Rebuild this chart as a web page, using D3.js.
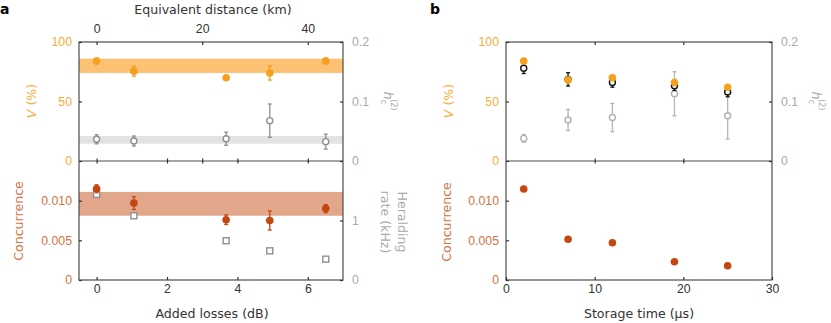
<!DOCTYPE html>
<html>
<head>
<meta charset="utf-8">
<script src="https://cdn.jsdelivr.net/npm/d3@7"></script>
<style>
  body { margin: 0; background: #fff; }
  svg { display: block; font-family: "DejaVu Sans", sans-serif; }
  .frame { fill: none; stroke: #4d4d4d; stroke-width: 1.2; }
  .axis path.domain { display: none; }
  .axis line { stroke: #333; stroke-width: 1.2; }
</style>
</head>
<body>
<svg id="chart" width="831" height="323"></svg>
<script>
"use strict";

// a: added losses
const lossDb = [0, 1.06, 3.68, 4.92, 6.51];
const visLoss = [84, 75.5, 70, 74, 84];
const visLossErr = [2.5, 4.2, 2, 6, 2.5];
const g2Loss = [0.0365, 0.0336, 0.0375, 0.0678, 0.0325];
const g2LossErr = [0.0076, 0.0084, 0.011, 0.028, 0.0126];
const concLoss = [0.0115, 0.0097, 0.0076, 0.0075, 0.0090];
const concLossErr = [0.0005, 0.0008, 0.0006, 0.0012, 0.0005];
const heraldRate = [1.44, 1.08, 0.66, 0.49, 0.35];
const visBand = [74, 86];
const g2Band = [0.029, 0.042];
const concBand = [0.0081, 0.0111];
const dbPerKm = 0.15;

// b: storage time
const storageUs = [2, 7, 12, 19, 25];
const visStore = [84, 68, 70, 66, 62];
const visStoreErr = [1.5, 2.5, 2, 2.5, 2];
const visStoreRef = [78, 68.6, 66, 63.3, 58];
const visStoreRefErr = [4.5, 5.6, 4, 4, 4];
const g2Store = [0.038, 0.069, 0.073, 0.113, 0.076];
const g2StoreErr = [0.0065, 0.0176, 0.0238, 0.037, 0.039];
const concStore = [0.01147, 0.00513, 0.0047, 0.0023, 0.0018];
const concStoreErr = [0.0002, 0.0002, 0.0002, 0.0001, 0.0001];

// tick values
const lossTicks = [0, 2, 4, 6];
const kmTicks = [0, 20, 40];
const storeTicks = [0, 10, 20, 30];
const visTicks = [0, 50, 100];
const g2Ticks = [0, 0.1, 0.2];
const concTicks = [0, 0.005, 0.010];
const heraldTicks = [0, 1];

const ORANGE = "#f7a01e", ORANGE_TXT = "#f8ac3a", ORANGE_BAND = "#fcc173";
const RUST = "#c4470f", RUST_TXT = "#d2743f", RUST_BAND = "#e2a68b";
const GREY = "#8f8f8f", GREY_TXT = "#a9a9a9", GREY_BAND = "#e3e3e3";
const INK = "#333";

const svg = d3.select("#chart");
svg.append("rect").attr("width", 831).attr("height", 323).attr("fill", "#fff");

const yTop = 42, yMid = 161, yBot = 280;
const FS = 12.6, TS = 12.3;

const yVis = d3.scaleLinear().domain([0, 100]).range([yMid, yTop]);
const yG2 = d3.scaleLinear().domain([0, 0.2]).range([yMid, yTop]);
const yConc = d3.scaleLinear().domain([0, 0.015]).range([yBot, yMid]);
const yHerald = d3.scaleLinear().domain([0, 2]).range([yBot, yMid]);

const concFmt = d => d === 0 ? "0" : d3.format(".3f")(d);
const g2Fmt = d => d === 0 ? "0" : d3.format(".1f")(d);

function colorText(color) {
  return a => a.selectAll("text").attr("fill", color).style("font-size", TS + "px");
}

function yAxes(g, left, right) {
  // left: visibility on top, concurrence below; right: h_c^(2) on top
  g.append("g").attr("class", "axis").attr("transform", `translate(${left},0)`)
    .call(d3.axisLeft(yVis).tickValues(visTicks).tickSizeInner(-3).tickSizeOuter(0).tickPadding(7))
    .call(colorText(ORANGE_TXT));
  g.append("g").attr("class", "axis").attr("transform", `translate(${left},0)`)
    .call(d3.axisLeft(yConc).tickValues(concTicks).tickFormat(concFmt).tickSizeInner(-3).tickSizeOuter(0).tickPadding(7))
    .call(colorText(RUST_TXT));
  g.append("g").attr("class", "axis").attr("transform", `translate(${right},0)`)
    .call(d3.axisRight(yG2).tickValues(g2Ticks).tickFormat(g2Fmt).tickSizeInner(-3).tickSizeOuter(0).tickPadding(9))
    .call(colorText(GREY_TXT));
}

function dividerTicks(g, x, ticks) {
  // both-sided ticks on the divider
  g.append("g").attr("class", "axis").attr("transform", `translate(0,${yMid})`)
    .call(d3.axisBottom(x).tickValues(ticks).tickSize(2.5).tickFormat(""));
  g.append("g").attr("class", "axis").attr("transform", `translate(0,${yMid})`)
    .call(d3.axisTop(x).tickValues(ticks).tickSize(2.5).tickFormat(""));
}

function errBars(g, xs, ys, errs, x, y, color) {
  const eb = g.append("g").attr("stroke", color).attr("stroke-width", 1.3);
  xs.forEach((xv, i) => {
    const x0 = x(xv), y1 = y(ys[i] - errs[i]), y2 = y(ys[i] + errs[i]);
    eb.append("line").attr("x1", x0).attr("x2", x0).attr("y1", y1).attr("y2", y2);
    eb.append("line").attr("x1", x0 - 2).attr("x2", x0 + 2).attr("y1", y1).attr("y2", y1);
    eb.append("line").attr("x1", x0 - 2).attr("x2", x0 + 2).attr("y1", y2).attr("y2", y2);
  });
}

function dots(g, xs, ys, x, y, fill, stroke, r) {
  g.append("g").selectAll("circle").data(xs).join("circle")
    .attr("cx", d => x(d)).attr("cy", (d, i) => y(ys[i])).attr("r", r)
    .attr("fill", fill).attr("stroke", stroke).attr("stroke-width", stroke === "none" ? 0 : 1.4);
}

function band(g, x0, x1, y, range, color) {
  g.append("rect").attr("x", x0).attr("width", x1 - x0)
    .attr("y", y(range[1])).attr("height", y(range[0]) - y(range[1])).attr("fill", color);
}

function rotLabel(g, x, y, angle, lines, color, dy) {
  const t = g.append("text").attr("transform", `translate(${x},${y}) rotate(${angle})`)
    .attr("text-anchor", "middle").attr("fill", color).style("font-size", FS + "px");
  lines.forEach((l, i) => t.append("tspan").attr("x", 0).attr("dy", i === 0 ? 0 : dy).text(l));
  return t;
}

function g2Label(g, x, y) {
  const t = g.append("text").attr("transform", `translate(${x},${y}) rotate(90)`)
    .attr("text-anchor", "middle").attr("fill", GREY_TXT).style("font-size", "13px");
  t.append("tspan").attr("font-style", "italic").text("h");
  t.append("tspan").attr("dy", 3).style("font-size", "8px").text("c");
  t.append("tspan").attr("dx", -5).attr("dy", -10).style("font-size", "8px").text("(2)");
}

function visLabel(g, x, y) {
  const t = g.append("text").attr("transform", `translate(${x},${y}) rotate(-90)`)
    .attr("text-anchor", "middle").attr("fill", ORANGE_TXT).style("font-size", FS + "px");
  t.append("tspan").attr("font-style", "italic").text("V");
  t.append("tspan").text(" (%)");
}

// ---- panel a ----
{
  const L = 79, R = 343;
  const g = svg.append("g");
  const x = d3.scaleLinear().domain([-0.5, 7]).range([L, R]);
  const xKm = d3.scaleLinear().domain([-0.5 / dbPerKm, 7 / dbPerKm]).range([L, R]);

  band(g, L, R, yVis, visBand, ORANGE_BAND);
  band(g, L, R, yG2, g2Band, GREY_BAND);
  band(g, L, R, yConc, concBand, RUST_BAND);

  errBars(g, lossDb, g2Loss, g2LossErr, x, yG2, GREY);
  dots(g, lossDb, g2Loss, x, yG2, "#fff", GREY, 3);
  errBars(g, lossDb, visLoss, visLossErr, x, yVis, ORANGE);
  dots(g, lossDb, visLoss, x, yVis, ORANGE, "none", 3.8);

  g.append("g").selectAll("rect").data(lossDb).join("rect")
    .attr("x", d => x(d) - 3).attr("y", (d, i) => yHerald(heraldRate[i]) - 3)
    .attr("width", 6).attr("height", 6)
    .attr("fill", "#fff").attr("stroke", GREY).attr("stroke-width", 1.4);
  errBars(g, lossDb, concLoss, concLossErr, x, yConc, RUST);
  dots(g, lossDb, concLoss, x, yConc, RUST, "none", 3.8);

  g.append("rect").attr("class", "frame").attr("x", L).attr("y", yTop).attr("width", R - L).attr("height", yBot - yTop);
  g.append("line").attr("class", "frame").attr("x1", L).attr("x2", R).attr("y1", yMid).attr("y2", yMid);

  yAxes(g, L, R);
  g.append("g").attr("class", "axis").attr("transform", `translate(${R},0)`)
    .call(d3.axisRight(yHerald).tickValues(heraldTicks).tickFormat(d3.format("d")).tickSizeInner(-3).tickSizeOuter(0).tickPadding(9))
    .call(colorText(GREY_TXT));

  g.append("g").attr("class", "axis").attr("transform", `translate(0,${yBot})`)
    .call(d3.axisBottom(x).tickValues(lossTicks).tickSizeInner(-3).tickSizeOuter(0).tickPadding(4))
    .call(colorText(INK));
  g.append("g").attr("class", "axis").attr("transform", `translate(0,${yTop})`)
    .call(d3.axisTop(xKm).tickValues(kmTicks).tickSizeInner(-3).tickSizeOuter(0).tickPadding(9))
    .call(colorText(INK));
  dividerTicks(g, x, lossTicks);
  dividerTicks(g, xKm, [20]);

  g.append("text").attr("x", (L + R) / 2 + 2).attr("y", 14).attr("text-anchor", "middle")
    .attr("fill", INK).style("font-size", FS + "px").text("Equivalent distance (km)");
  g.append("text").attr("x", (L + R) / 2 + 1).attr("y", 318).attr("text-anchor", "middle")
    .attr("fill", INK).style("font-size", FS + "px").text("Added losses (dB)");

  visLabel(g, 36, 101);
  rotLabel(g, 23, 221, -90, ["Concurrence"], RUST_TXT);
  g2Label(g, 384, 101);
  rotLabel(g, 398, 222, 90, ["Heralding", "rate (kHz)"], GREY_TXT, 17);

  g.append("text").attr("x", 0).attr("y", 14).attr("font-weight", "bold").style("font-size", "14px").text("a");
}

// ---- panel b ----
{
  const L = 506, R = 772;
  const g = svg.append("g");
  const x = d3.scaleLinear().domain([0, 30]).range([L, R]);

  errBars(g, storageUs, g2Store, g2StoreErr, x, yG2, "#b5b5b5");
  dots(g, storageUs, g2Store, x, yG2, "#fff", "#b0b0b0", 3);
  errBars(g, storageUs, visStoreRef, visStoreRefErr, x, yVis, "#111");
  dots(g, storageUs, visStoreRef, x, yVis, "#fff", "#111", 3);
  errBars(g, storageUs, visStore, visStoreErr, x, yVis, ORANGE);
  dots(g, storageUs, visStore, x, yVis, ORANGE, "none", 3.8);
  errBars(g, storageUs, concStore, concStoreErr, x, yConc, RUST);
  dots(g, storageUs, concStore, x, yConc, RUST, "none", 3.8);

  g.append("rect").attr("class", "frame").attr("x", L).attr("y", yTop).attr("width", R - L).attr("height", yBot - yTop);
  g.append("line").attr("class", "frame").attr("x1", L).attr("x2", R).attr("y1", yMid).attr("y2", yMid);

  yAxes(g, L, R);

  g.append("g").attr("class", "axis").attr("transform", `translate(0,${yBot})`)
    .call(d3.axisBottom(x).tickValues(storeTicks).tickSizeInner(-3).tickSizeOuter(0).tickPadding(4))
    .call(colorText(INK));
  g.append("g").attr("class", "axis").attr("transform", `translate(0,${yTop})`)
    .call(d3.axisTop(x).tickValues([10, 20]).tickSizeInner(-3).tickSizeOuter(0).tickFormat(""));
  dividerTicks(g, x, [10, 20]);

  g.append("text").attr("x", (L + R) / 2).attr("y", 318).attr("text-anchor", "middle")
    .attr("fill", INK).style("font-size", FS + "px").text("Storage time (\u00b5s)");

  visLabel(g, 453, 101);
  rotLabel(g, 451, 222, -90, ["Concurrence"], RUST_TXT);
  g2Label(g, 812, 101);

  g.append("text").attr("x", 430).attr("y", 14).attr("font-weight", "bold").style("font-size", "14px").text("b");
}
</script>
</body>
</html>
